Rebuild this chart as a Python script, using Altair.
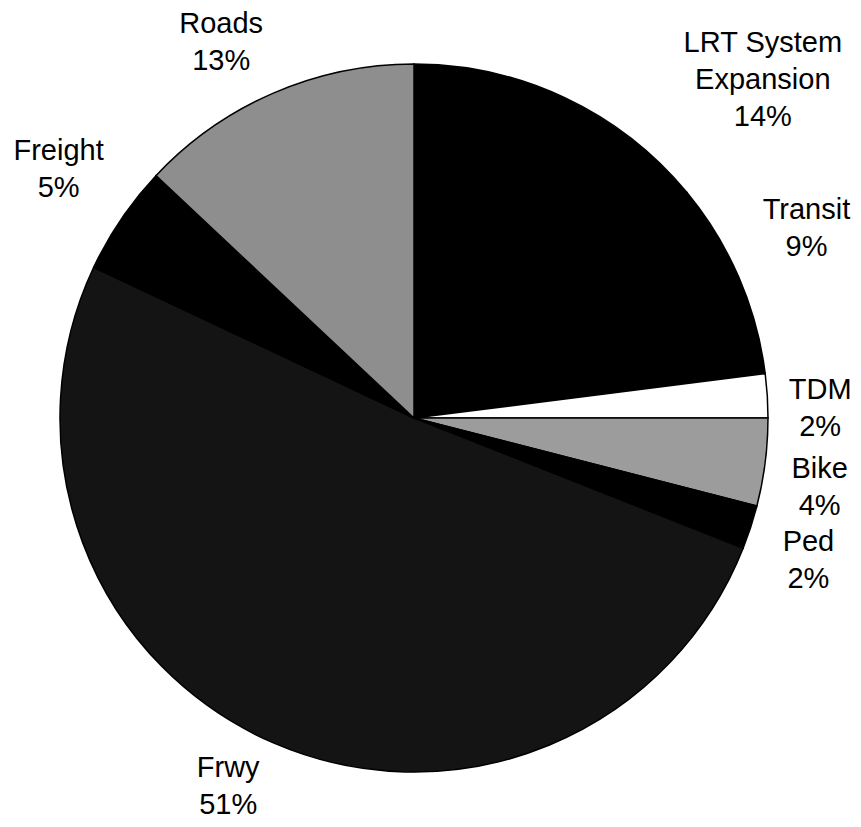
import math
import altair as alt
import pandas as pd

# ---- data ----
categories = ["LRT System Expansion", "Transit", "TDM", "Bike", "Ped", "Frwy", "Freight", "Roads"]
label_names = ["LRT System\nExpansion", "Transit", "TDM", "Bike", "Ped", "Frwy", "Freight", "Roads"]
shares = [14, 9, 2, 4, 2, 51, 5, 13]

# ---- styling ----
fills = ["#000000", "#000000", "#ffffff", "#9c9c9c", "#000000", "#141414", "#000000", "#8e8e8e"]
LINE_H = 37
FONT_SIZE = 29
# small pixel nudges of each label away from its slice's mid-angle (like Excel's label placement)
nudges = {
    "LRT System Expansion": (170, 42),
    "Transit": (7, -23),
    "TDM": (-13, 17),
    "Bike": (-11, 17),
    "Ped": (-5, 13),
    "Frwy": (-19, -17),
    "Freight": (-8, -12),
    "Roads": (-26, 10),
}

labels = [f"{n}\n{s}%" for n, s in zip(label_names, shares)]
df = pd.DataFrame({
    "idx": list(range(len(categories))),
    "category": categories,
    "share": shares,
    "label": labels,
})
total = sum(shares)
theta_scale = alt.Scale(domain=[0, total], range=[0, 2 * math.pi])

base = alt.Chart(df).transform_stack(
    stack="share", groupby=[], as_=["start", "end"], sort=[alt.SortField("idx")]
).transform_calculate(mid="(datum.start + datum.end) / 2")

pie = base.mark_arc(radius=354, stroke="black", strokeWidth=1.5).encode(
    theta=alt.Theta("start:Q", scale=theta_scale),
    theta2="end:Q",
    color=alt.Color("category:N", scale=alt.Scale(domain=categories, range=fills), legend=None),
)

layers = [pie]
for cat, lab in zip(categories, labels):
    ddx, ddy = nudges[cat]
    n_lines = lab.count("\n") + 1
    ddy = ddy - (n_lines - 1) * LINE_H / 2  # centre the whole multi-line block
    layers.append(
        base.transform_filter(alt.datum.category == cat).mark_text(
            radius=420, dx=ddx, dy=ddy, font="Liberation Sans", fontSize=FONT_SIZE,
            lineBreak="\n", lineHeight=LINE_H, align="center", baseline="middle", color="black",
        ).encode(
            theta=alt.Theta("mid:Q", scale=theta_scale, stack=False),
            text="label:N",
        )
    )

chart = alt.layer(*layers).properties(
    width=812, height=792,
    padding={"left": 0, "top": 14, "right": 32, "bottom": 4},
    autosize=alt.AutoSizeParams(type="none"),
    background="white",
).configure_view(strokeWidth=0)

chart.save("out.html", embed_options={"renderer": "svg", "actions": False})
